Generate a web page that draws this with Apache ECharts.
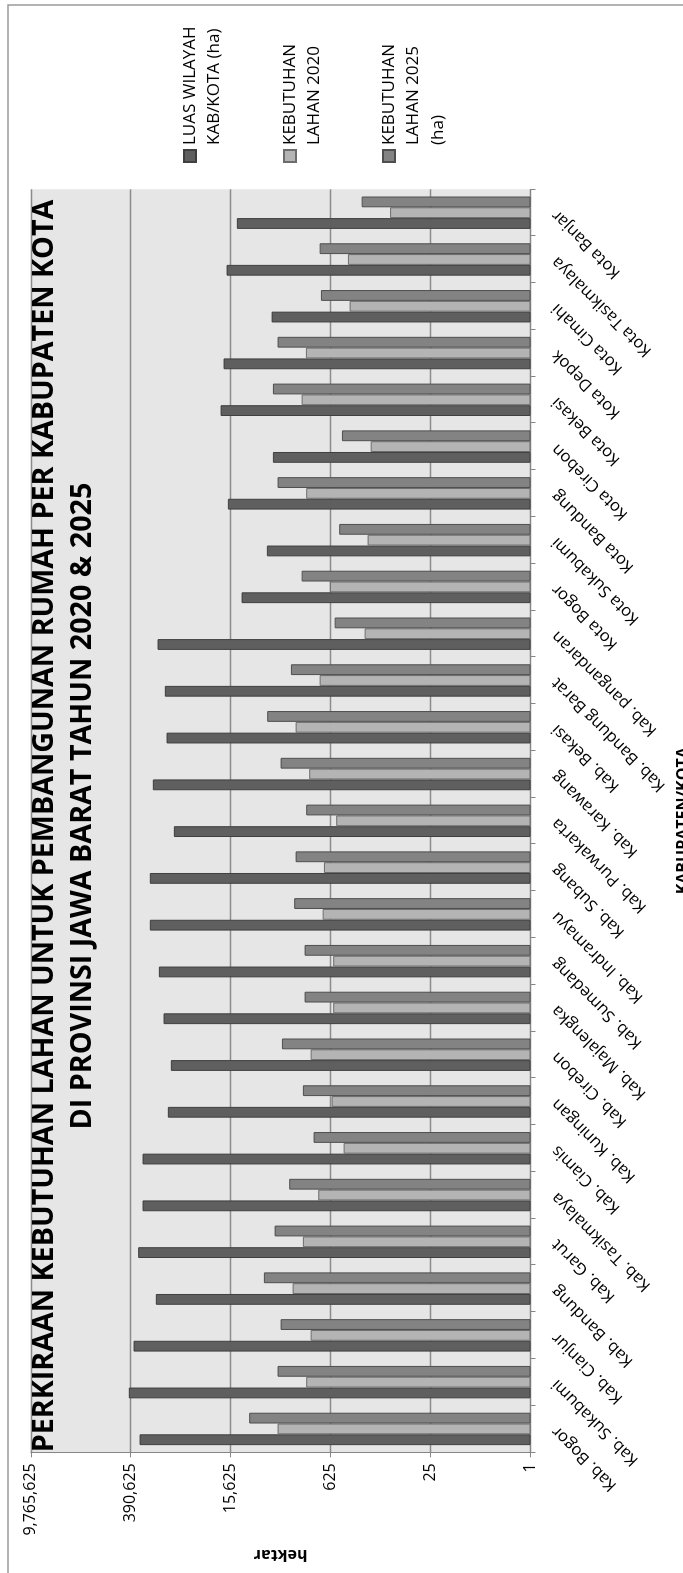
<!DOCTYPE html>
<html>
<head>
<meta charset="utf-8">
<script src="https://cdn.jsdelivr.net/npm/echarts@6/dist/echarts.min.js"></script>
<style>
  html, body { margin: 0; padding: 0; width: 683px; height: 1573px; overflow: hidden; background: #fff; }
  /* the chart is laid out landscape and turned a quarter turn counter-clockwise */
  #chart {
    position: absolute; left: 0; top: 0;
    width: 1573px; height: 683px;
    transform-origin: 0 0;
    transform: translate(0, 1573px) rotate(-90deg);
  }
</style>
</head>
<body>
<div id="chart"></div>
<script>
const categories = [
  'Kab. Bogor', 'Kab. Sukabumi', 'Kab. Cianjur', 'Kab. Bandung', 'Kab. Garut',
  'Kab. Tasikmalaya', 'Kab. Ciamis', 'Kab. Kuningan', 'Kab. Cirebon', 'Kab. Majalengka',
  'Kab. Sumedang', 'Kab. Indramayu', 'Kab. Subang', 'Kab. Purwakarta', 'Kab. Karawang',
  'Kab. Bekasi', 'Kab. Bandung Barat', 'Kab. pangandaran', 'Kota Bogor', 'Kota Sukabumi',
  'Kota Bandung', 'Kota Cirebon', 'Kota Bekasi', 'Kota Depok', 'Kota Cimahi',
  'Kota Tasikmalaya', 'Kota Banjar'
];

// hectares
const luasWilayah = [
  294000, 415800, 357000, 174100, 307700,
  267000, 267000, 118200, 107300, 135800,
  157900, 211200, 211200, 97400, 191700,
  123300, 130200, 164700, 11000, 4870,
  17100, 4010, 21620, 19650, 4180,
  17830, 12800
];

const kebutuhan2020 = [
  3450, 1372, 1190, 2125, 1526,
  931, 411, 606, 1190, 575,
  575, 808, 775, 522, 1245,
  1930, 890, 209, 640, 190,
  1372, 172, 1590, 1385, 339,
  358, 92
];

const kebutuhan2025 = [
  8610, 3450, 3130, 5360, 3795,
  2371, 1081, 1526, 3000, 1445,
  1445, 2020, 1930, 1372, 3130,
  4818, 2245, 549, 1590, 474,
  3450, 434, 4010, 3450, 854,
  890, 230
];

const valueTickLabels = ['1', '25', '625', '15,625', '390,625', '9,765,625'];

const seriesNames = [
  'LUAS WILAYAH KAB/KOTA (ha)',
  'KEBUTUHAN LAHAN 2020',
  'KEBUTUHAN LAHAN 2025 (ha)'
];
const legendLines = [
  ['LUAS WILAYAH', 'KAB/KOTA (ha)'],
  ['KEBUTUHAN', 'LAHAN 2020'],
  ['KEBUTUHAN', 'LAHAN 2025', '(ha)']
];

const titleLines = [
  'PERKIRAAN KEBUTUHAN LAHAN UNTUK PEMBANGUNAN RUMAH PER KABUPATEN KOTA',
  'DI PROVINSI JAWA BARAT TAHUN 2020 & 2025'
];

const FONT = "'Open Sans', 'DejaVu Sans', sans-serif";
const LOG_BASE = 25;
const LEGEND_LINE_H = 24.5;
const legendIconCenters = [190, 290, 389];
const titleCenters = [747, 767];
const fills = ['#5f5f5f', '#b4b4b4', '#838383'];
const strokes = ['#3f3f3f', '#6c6c6c', '#4e4e4e'];
const axisGrey = '#868686';

const chart = echarts.init(document.getElementById('chart'), null, { renderer: 'canvas' });

// One legend per entry. The label text is centred on the swatch, so blank
// lines are put in front of it to bring its first line level with the swatch.
const legends = seriesNames.map((name, i) => {
  const n = legendLines[i].length;
  const label = '\n'.repeat(n - 1) + legendLines[i].join('\n');
  return {
    data: [{ name: name }],
    orient: 'vertical',
    left: 1410,
    top: legendIconCenters[i] - (2 * n - 1) * LEGEND_LINE_H / 2,
    padding: 0,
    itemWidth: 12,
    itemHeight: 12,
    itemGap: 0,
    icon: 'rect',
    selectedMode: false,
    formatter: () => label,
    textStyle: {
      fontFamily: FONT,
      fontSize: 17,
      color: '#000',
      lineHeight: LEGEND_LINE_H
    }
  };
});

const titles = titleLines.map((line, i) => ({
  text: line,
  left: titleCenters[i],
  top: 26 + i * 38,
  padding: 0,
  textAlign: 'center',
  textStyle: {
    fontFamily: FONT,
    fontSize: 28.7,
    fontWeight: 'bold',
    color: '#000',
    lineHeight: 38
  }
}));

const option = {
  animation: false,
  backgroundColor: '#ffffff',
  title: titles,
  legend: legends,
  grid: {
    left: 120.7,
    right: 189.3,
    top: 30.8,
    bottom: 152.5,
    show: true,
    backgroundColor: '#e6e6e6',
    borderWidth: 0,
    containLabel: false,
    outerBoundsMode: 'none'
  },
  xAxis: {
    type: 'category',
    data: categories,
    name: 'KABUPATEN/KOTA',
    nameLocation: 'middle',
    nameGap: 145,
    nameTextStyle: { fontFamily: FONT, fontSize: 16, fontWeight: 'bold', color: '#000' },
    axisLine: { lineStyle: { color: axisGrey, width: 1 } },
    axisTick: { show: true, length: 5, lineStyle: { color: axisGrey } },
    axisLabel: {
      interval: 0,
      rotate: 45,
      margin: 24,
      fontFamily: FONT,
      fontSize: 16.5,
      color: '#000'
    },
    splitLine: { show: false }
  },
  yAxis: {
    type: 'log',
    logBase: LOG_BASE,
    min: 1,
    max: Math.pow(LOG_BASE, valueTickLabels.length - 1),
    splitNumber: valueTickLabels.length - 1,
    name: 'hektar',
    nameLocation: 'middle',
    nameRotate: 90,
    nameGap: 94,
    nameTextStyle: { fontFamily: FONT, fontSize: 16, fontWeight: 'bold', color: '#000' },
    axisLine: { show: true, lineStyle: { color: axisGrey, width: 1 } },
    axisTick: { show: true, length: 5, lineStyle: { color: axisGrey } },
    axisLabel: {
      margin: 11,
      fontFamily: FONT,
      fontSize: 16,
      color: '#000',
      formatter: v => valueTickLabels[Math.round(Math.log(v) / Math.log(LOG_BASE))]
    },
    splitLine: { show: true, lineStyle: { color: '#8c8c8c', width: 1.4 } }
  },
  series: [luasWilayah, kebutuhan2020, kebutuhan2025].map((values, i) => ({
    type: 'bar',
    name: seriesNames[i],
    data: values,
    barWidth: 10.8,
    barGap: '0%',
    itemStyle: { color: fills[i], borderColor: strokes[i], borderWidth: 1 },
    emphasis: { disabled: true }
  })),
  graphic: [{
    type: 'polyline',
    silent: true,
    shape: { points: [[0, 8], [1568, 8], [1568, 690]] },
    style: { stroke: '#9a9a9a', lineWidth: 1.5, fill: null }
  }]
};

chart.setOption(option);
</script>
</body>
</html>
